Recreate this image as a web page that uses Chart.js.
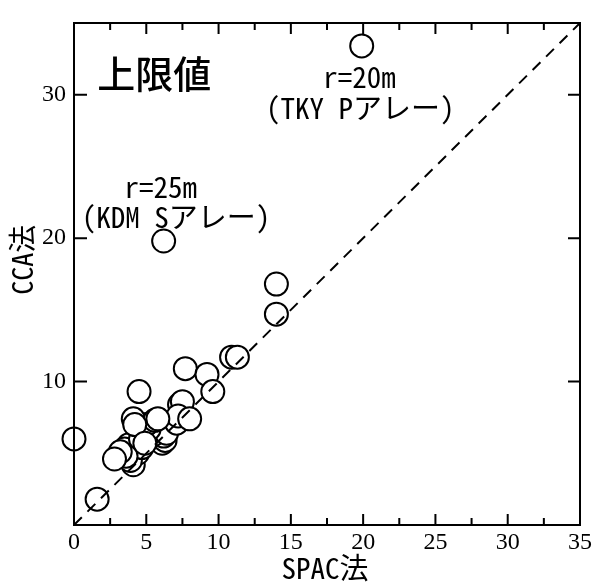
<!DOCTYPE html>
<html>
<head>
<meta charset="utf-8">
<script src="https://cdn.jsdelivr.net/npm/chart.js@4/dist/chart.umd.min.js"></script>
<style>
html,body{margin:0;padding:0;background:#fff;}
canvas{display:block;}
</style>
</head>
<body>
<canvas id="c" width="594" height="585"></canvas>
<script>
// ---- data ----
const spacX = [19.9, 6.2, 14.0, 14.0, 0.0, 1.6,
  7.7, 9.2, 9.6, 10.9, 11.3, 4.5,
  4.1, 4.4, 3.8, 3.9, 4.7, 3.5, 3.6, 6.1, 6.3, 6.2, 5.5, 6.4, 4.6,
  5.2, 5.0, 4.1, 5.6, 7.3, 7.5, 7.1, 7.2, 3.2,
  2.8, 4.2, 5.8, 8.0, 4.9];
const ccaY = [33.4, 19.8, 16.8, 14.7, 6.0, 1.8,
  10.9, 10.5, 9.3, 11.7, 11.7, 9.3,
  4.2, 5.0, 5.6, 4.5, 5.4, 5.3, 4.8, 5.7, 5.9, 6.2, 6.3, 6.4, 6.0,
  6.7, 7.0, 7.4, 7.3, 8.4, 8.6, 7.1, 7.6, 5.1,
  4.6, 7.0, 7.4, 7.4, 5.7];
const xTickLabels = [0, 5, 10, 15, 20, 25, 30, 35];
const yTickLabels = [10, 20, 30];
const xMinorTicks = [2.5, 7.5, 12.5, 17.5, 22.5, 27.5, 32.5];
const refLine = [0, 35];
const xTitle = 'SPAC法';
const yTitle = 'CCA法';
const notes = [
  {text: '上限値', x: 1.6, y: 31.5, big: true},
  {text: 'r=20m', x: 19.75, y: 31.25},
  {text: '(TKY Pアレー)', x: 19.8, y: 29.1},
  {text: 'r=25m', x: 6.0, y: 23.6},
  {text: '(KDM Sアレー)', x: 7.05, y: 21.5}
];

const monoFont = '"Noto Sans Mono CJK JP", "DejaVu Sans Mono", "Noto Sans CJK JP", monospace';
const serifFont = '"Liberation Serif", "DejaVu Serif", serif';

const framePlugin = {
  id: 'frame',
  afterDraw(chart) {
    const {ctx, chartArea: a, scales: {x, y}} = chart;
    ctx.save();
    ctx.strokeStyle = '#000';
    ctx.lineWidth = 2;
    ctx.lineCap = 'butt';
    ctx.strokeRect(a.left, a.top, a.right - a.left, a.bottom - a.top);
    ctx.beginPath();
    xTickLabels.forEach(v => {
      const px = x.getPixelForValue(v);
      ctx.moveTo(px, a.bottom); ctx.lineTo(px, a.bottom - 11);
      ctx.moveTo(px, a.top); ctx.lineTo(px, a.top + 11);
    });
    xMinorTicks.forEach(v => {
      const px = x.getPixelForValue(v);
      ctx.moveTo(px, a.bottom); ctx.lineTo(px, a.bottom - 7);
      ctx.moveTo(px, a.top); ctx.lineTo(px, a.top + 7);
    });
    yTickLabels.forEach(v => {
      const py = y.getPixelForValue(v);
      ctx.moveTo(a.left, py); ctx.lineTo(a.left + 13, py);
      ctx.moveTo(a.right, py); ctx.lineTo(a.right - 12, py);
    });
    ctx.stroke();
    ctx.fillStyle = '#000';
    ctx.textBaseline = 'middle';
    // annotations
    notes.forEach(n => {
      const px = x.getPixelForValue(n.x), py = y.getPixelForValue(n.y);
      if (n.big) {
        ctx.font = '500 38px "Noto Sans CJK JP", sans-serif';
        ctx.textAlign = 'left';
      } else {
        ctx.font = '29px ' + monoFont;
        ctx.textAlign = 'center';
      }
      ctx.fillText(n.text, px, py);
    });
    // axis titles
    ctx.textAlign = 'center';
    ctx.font = '29px ' + monoFont;
    ctx.fillText(xTitle, (a.left + a.right) / 2 - 2, a.bottom + 43);
    ctx.save();
    ctx.translate(22, y.getPixelForValue(18.5));
    ctx.rotate(-Math.PI / 2);
    ctx.font = '28px ' + monoFont;
    ctx.fillText(yTitle, 0, 0);
    ctx.restore();
    ctx.restore();
  }
};

const points = spacX.map((v, i) => ({x: v, y: ccaY[i]}));

new Chart(document.getElementById('c'), {
  type: 'scatter',
  data: {
    datasets: [
      {
        type: 'line',
        data: refLine.map(v => ({x: v, y: v})),
        borderColor: '#000',
        borderWidth: 2,
        borderDash: [11, 8],
        pointRadius: 0,
        fill: false,
        order: 1
      },
      {
        data: points,
        pointRadius: 11.5,
        pointBackgroundColor: '#fff',
        pointBorderColor: '#000',
        pointBorderWidth: 2,
        clip: false,
        order: 2
      }
    ]
  },
  options: {
    responsive: false,
    animation: false,
    layout: {padding: {top: 23, right: 14, left: 0, bottom: 0}},
    plugins: {legend: {display: false}, tooltip: {enabled: false}},
    scales: {
      x: {
        type: 'linear', min: 0, max: 35,
        grid: {display: false, drawTicks: false},
        border: {display: false},
        ticks: {
          stepSize: 5,
          padding: 3,
          color: '#000',
          maxRotation: 0,
          font: {family: serifFont, size: 24},
          callback: v => xTickLabels.includes(v) ? String(v) : ''
        },
        title: {display: false},
        afterFit: s => { s.height = 60; s.paddingLeft = 0; s.paddingRight = 0; }
      },
      y: {
        type: 'linear', min: 0, max: 35,
        grid: {display: false, drawTicks: false},
        border: {display: false},
        ticks: {
          stepSize: 10,
          padding: 8,
          color: '#000',
          font: {family: serifFont, size: 24},
          callback: v => yTickLabels.includes(v) ? String(v) : ''
        },
        title: {display: false},
        afterFit: s => { s.width = 74; s.paddingTop = 0; s.paddingBottom = 0; }
      }
    }
  },
  plugins: [framePlugin]
});
</script>
</body>
</html>
